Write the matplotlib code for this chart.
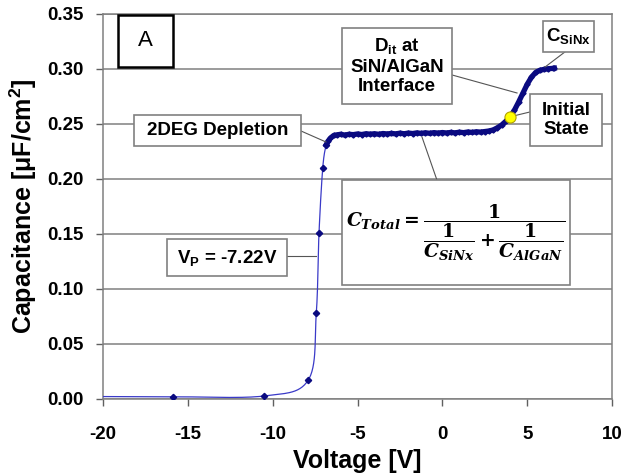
import matplotlib
matplotlib.use("Agg")
import matplotlib.pyplot as plt
from matplotlib.patches import Rectangle
import numpy as np

plt.rcParams['font.family'] = ['Liberation Sans', 'DejaVu Sans']
plt.rcParams['font.weight'] = 'bold'
plt.rcParams['axes.unicode_minus'] = False
plt.rcParams['mathtext.fontset'] = 'custom'
plt.rcParams['mathtext.rm'] = 'Liberation Sans:bold'
plt.rcParams['mathtext.it'] = 'Liberation Sans:bold'
plt.rcParams['mathtext.bf'] = 'Liberation Sans:bold'

# sparse sweep points (depletion region)
v_sparse = [-20.5, -15.88, -10.5, -7.9, -7.43, -7.27, -7.05, -6.85]
c_sparse = [0.0018, 0.0016, 0.0023, 0.0169, 0.0778, 0.1508, 0.2100, 0.2310]

# dense sweep points (accumulation plateau and SiNx rise)
v_dense = [-6.85, -6.75, -6.6, -6.4, -6.2, -6.0, -5.75, -5.5, -5.25, -5.0,
           -4.75, -4.5, -4.25, -4.0, -3.75, -3.5, -3.25, -3.0, -2.75, -2.5,
           -2.25, -2.0, -1.75, -1.5, -1.25, -1.0, -0.75, -0.5, -0.25, 0.0,
           0.25, 0.5, 0.75, 1.0, 1.25, 1.5, 1.75, 2.0, 2.25, 2.5,
           2.75, 3.0, 3.25, 3.5, 3.75, 4.0, 4.25, 4.5, 4.75, 5.0,
           5.25, 5.5, 5.75, 6.0, 6.25, 6.5, 6.6]
c_dense = [0.2310, 0.2340, 0.2370, 0.2395, 0.2400, 0.2405, 0.2398, 0.2405, 0.2402, 0.2408,
           0.2403, 0.2410, 0.2406, 0.2410, 0.2405, 0.2412, 0.2408, 0.2413, 0.2409, 0.2415,
           0.2410, 0.2416, 0.2412, 0.2418, 0.2413, 0.2419, 0.2414, 0.2420, 0.2416, 0.2421,
           0.2417, 0.2422, 0.2418, 0.2424, 0.2420, 0.2426, 0.2422, 0.2428, 0.2425, 0.2430,
           0.2435, 0.2445, 0.2465, 0.2490, 0.2525, 0.2566, 0.2625, 0.2700, 0.2780, 0.2860,
           0.2925, 0.2968, 0.2988, 0.2996, 0.3002, 0.3005, 0.3007]

v_initial = 4.0
c_initial = 0.2566

navy = '#0a0a80'
gray = '#808080'


def smooth_path(xs, ys, n=30):
    # Excel-style smoothed line drawn through the measured points
    p = np.column_stack([xs, ys]).astype(float)
    p = np.vstack([p[0], p, p[-1]])
    out = []
    t = np.linspace(0, 1, n)[:, None]
    for i in range(1, len(p) - 2):
        p0, p1, p2, p3 = p[i - 1], p[i], p[i + 1], p[i + 2]
        c1 = p1 + (p2 - p0) / 6
        c2 = p2 - (p3 - p1) / 6
        seg = ((1 - t) ** 3) * p1 + 3 * ((1 - t) ** 2) * t * c1 + 3 * (1 - t) * t ** 2 * c2 + t ** 3 * p2
        out.append(seg)
    out = np.vstack(out)
    return out[:, 0], out[:, 1]


fig = plt.figure(figsize=(6.29, 4.76), dpi=100)
ax = fig.add_axes([0.1638, 0.1628, 0.8092, 0.8078])

sx, sy = smooth_path(v_sparse + v_dense[1:4], c_sparse + c_dense[1:4])
ax.plot(sx, sy, color='#3a3ac8', lw=0.9, zorder=3)
ax.plot(v_sparse, c_sparse, 'D', color=navy, ms=3.2, zorder=4)
ax.plot(v_dense, c_dense, color=navy, lw=3.8, zorder=4)
ax.plot(v_dense, c_dense, 'D', color=navy, ms=2.6, zorder=4)
ax.plot([v_initial], [c_initial], 'o', ms=8, mfc='#ffff00', mec='#b0a000', mew=0.8, zorder=6)

ax.set_xlim(-20, 10)
ax.set_ylim(0, 0.35)
ax.set_xticks(range(-20, 11, 5))
ax.set_yticks([0, 0.05, 0.1, 0.15, 0.2, 0.25, 0.3, 0.35])
ax.set_yticklabels([f"{t:.2f}" for t in [0, 0.05, 0.1, 0.15, 0.2, 0.25, 0.3, 0.35]])
ax.yaxis.grid(True, color=gray, lw=1.1)
ax.set_axisbelow(True)
for s in ax.spines.values():
    s.set_color(gray)
    s.set_linewidth(1.1)
ax.tick_params(axis='both', direction='out', length=5, width=1, color='#606060',
               labelsize=13.5)
ax.tick_params(axis='y', pad=9)
ax.tick_params(axis='x', pad=15)
ax.set_xlabel('Voltage [V]', fontsize=18, fontweight='bold', labelpad=4)
ax.set_ylabel('Capacitance [\u03bcF/cm$^{2}$]', fontsize=18, fontweight='bold', labelpad=6)


def box(x0, x1, y0, y1, ec=gray, lw=1.2):
    ax.add_patch(Rectangle((x0, y0), x1 - x0, y1 - y0, fc='white', ec=ec, lw=lw, zorder=7))


def leader(xs, ys):
    ax.plot(xs, ys, color='#555555', lw=0.8, zorder=5)


# "A" panel label
box(-19.12, -15.88, 0.3017, 0.349, ec='black', lw=1.8)
ax.text(-17.5, 0.3255, 'A', ha='center', va='center', fontsize=16, fontweight='normal', zorder=8)

# Dit annotation
leader([0.57, 4.40], [0.2945, 0.2781])
box(-5.92, 0.57, 0.2681, 0.3372)
ax.text(-2.67, 0.3028, 'D$_{it}$ at\nSiN/AlGaN\nInterface', ha='center', va='center',
        fontsize=13.5, linespacing=1.2, zorder=8)

# CSiNx annotation
leader([7.22, 6.05], [0.3154, 0.3017])
box(5.93, 8.93, 0.3154, 0.3436)
ax.text(7.43, 0.3298, 'C$_{SiNx}$', ha='center', va='center', fontsize=13.5, zorder=8)

# Initial state annotation
leader([5.16, 3.95], [0.2608, 0.2563])
box(5.16, 9.40, 0.2298, 0.2772)
ax.text(7.28, 0.2535, 'Initial\nState', ha='center', va='center', fontsize=13.5,
        linespacing=1.2, zorder=8)

# 2DEG depletion annotation
leader([-8.33, -6.86], [0.2435, 0.2335])
box(-18.17, -8.33, 0.2298, 0.2581)
ax.text(-13.25, 0.2440, '2DEG Depletion', ha='center', va='center', fontsize=13.5, zorder=8)

# series capacitance equation
leader([-1.2, -0.32], [0.2380, 0.1989])
box(-5.92, 7.52, 0.1033, 0.1989)
ax.text(0.8, 0.151,
        r'$\boldsymbol{C_{Total}} = \dfrac{\mathbf{1}}{\dfrac{\mathbf{1}}{\boldsymbol{C_{SiNx}}} + \dfrac{\mathbf{1}}{\boldsymbol{C_{AlGaN}}}}$',
        ha='center', va='center', fontsize=13.5, math_fontfamily='dejavuserif', zorder=8)

# pinch-off voltage annotation
leader([-9.16, -7.45], [0.1297, 0.1297])
box(-16.23, -9.16, 0.1115, 0.1452)
ax.text(-12.7, 0.1283, 'V$_{P}$ = -7.22V', ha='center', va='center', fontsize=13.5, zorder=8)

fig.savefig('out.png', dpi=100)
